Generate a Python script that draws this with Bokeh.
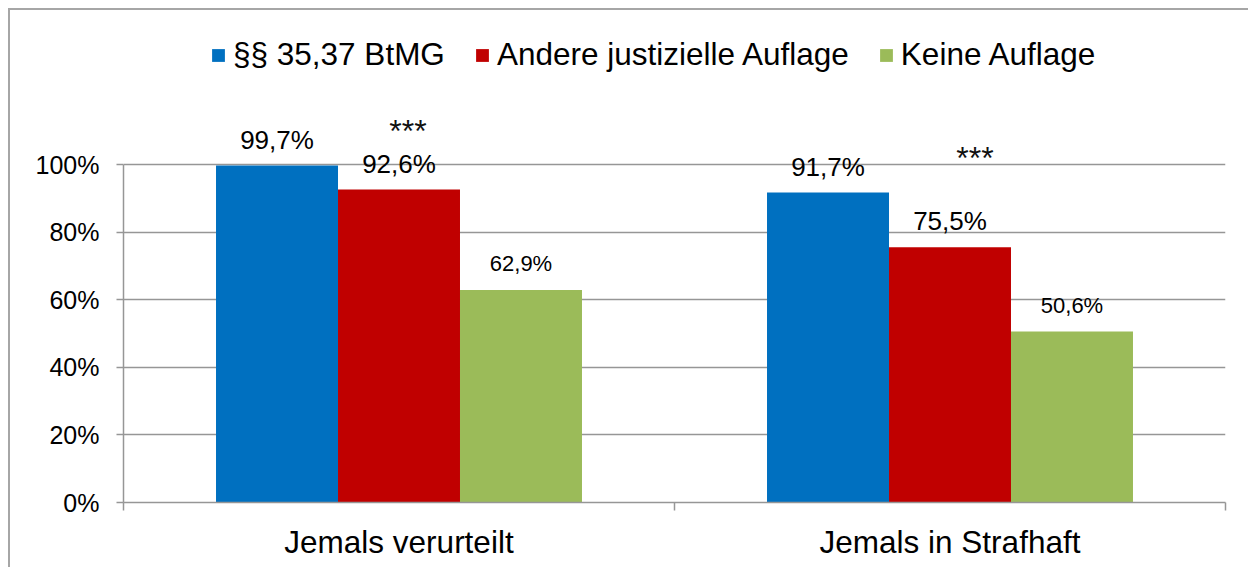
from bokeh.plotting import figure
from bokeh.models import Range1d, FixedTicker, Legend, LegendItem, ColumnDataSource
from bokeh.core.properties import value
from bokeh.embed import file_html
from bokeh.resources import INLINE

# ---- data ----
categories = ["Jemals verurteilt", "Jemals in Strafhaft"]
series_names = ["§§ 35,37 BtMG", "Andere justizielle Auflage", "Keine Auflage"]
values_btmg = [99.7, 91.7]
values_andere = [92.6, 75.5]
values_keine = [62.9, 50.6]
significance = ["***", "***"]
y_ticks = [0, 20, 40, 60, 80, 100]

# ---- styles ----
colors = ["#0070C0", "#C00000", "#9BBB59"]
label_sizes = ["26px", "26px", "22px"]
sig_dx = [9, 25]
FONT = value("Liberation Sans")
GRAY = "#969696"

bar_w = 0.2214

p = figure(width=1240, height=559, output_backend="svg", toolbar_location=None,
           x_range=Range1d(0, 2), y_range=Range1d(0, 143.79),
           min_border_left=113, min_border_right=25, min_border_top=6,
           min_border_bottom=67, outline_line_color=None)
p.styles = {"margin-left": "8px", "margin-top": "8px",
            "border-left": "2px solid #a6a6a6", "border-top": "2px solid #a6a6a6"}

all_values = [values_btmg, values_andere, values_keine]
renderers = []
for k, vals in enumerate(all_values):
    xs = [i + 0.5 + (k - 1) * bar_w for i in range(len(categories))]
    src = ColumnDataSource(dict(
        x=xs, top=vals,
        label=[f"{v:.1f}%".replace(".", ",") for v in vals]))
    r = p.vbar(x="x", top="top", bottom=0, width=bar_w, source=src,
               fill_color=colors[k], line_color=None)
    renderers.append(r)
    p.text(x="x", y="top", text="label", source=src, y_offset=-26,
           text_align="center", text_baseline="alphabetic",
           text_font=FONT, text_font_size=label_sizes[k], text_color="black")

# significance markers above each group
sig_src = ColumnDataSource(dict(
    x=[i + 0.5 for i in range(len(categories))],
    y=[max(a, b, c) for a, b, c in zip(values_btmg, values_andere, values_keine)],
    dx=sig_dx, text=significance))
p.text(x="x", y="y", text="text", x_offset="dx", y_offset=-35, source=sig_src,
       text_align="center", text_baseline="alphabetic",
       text_font=FONT, text_font_size="32px", text_color="#111111")

# y axis
ya = p.yaxis[0]
ya.ticker = FixedTicker(ticks=y_ticks)
ya.major_label_overrides = {t: f"{t}%" for t in y_ticks}
ya.bounds = (0, 100)
ya.major_tick_out = 7
ya.major_tick_in = 0
ya.minor_tick_out = 0
ya.minor_tick_in = 0
ya.axis_line_color = GRAY
ya.axis_line_width = 1.5
ya.major_tick_line_color = GRAY
ya.major_tick_line_width = 1.5
ya.major_label_standoff = 17
ya.major_label_text_font = "Liberation Sans"
ya.major_label_text_font_size = "25px"
ya.major_label_text_color = "black"

# x axis
xa = p.xaxis[0]
centers = [i + 0.5 for i in range(len(categories))]
xa.ticker = FixedTicker(ticks=centers, minor_ticks=list(range(len(categories) + 1)))
xa.major_label_overrides = {c: name for c, name in zip(centers, categories)}
xa.major_tick_out = 0
xa.major_tick_in = 0
xa.minor_tick_out = 8
xa.minor_tick_in = 0
xa.minor_tick_line_color = GRAY
xa.minor_tick_line_width = 1.5
xa.axis_line_color = GRAY
xa.axis_line_width = 1.5
xa.major_label_standoff = 13
xa.major_label_text_font = "Liberation Sans"
xa.major_label_text_font_size = "31.5px"
xa.major_label_text_color = "black"

# grid
p.xgrid.visible = False
p.ygrid.ticker = FixedTicker(ticks=y_ticks)
p.ygrid.grid_line_color = GRAY
p.ygrid.grid_line_width = 1.5

legend = Legend(items=[LegendItem(label=n, renderers=[r]) for n, r in zip(series_names, renderers)],
                orientation="horizontal", location=(87, 429),
                glyph_width=16, glyph_height=16, label_standoff=7, spacing=29,
                padding=0, margin=0, border_line_color=None, background_fill_alpha=0,
                label_text_font="Liberation Sans", label_text_font_size="31.5px",
                label_text_color="black")
p.add_layout(legend)

open("out.html", "w").write(file_html(p, INLINE))
